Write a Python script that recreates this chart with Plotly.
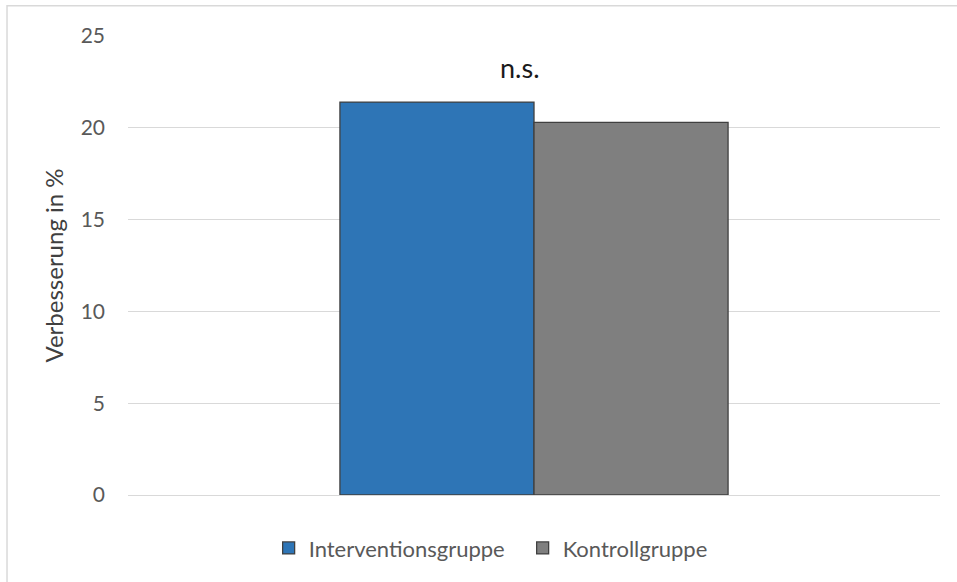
import plotly.graph_objects as go

# Improvement per group (percent)
categories = [""]
groups = ["Interventionsgruppe", "Kontrollgruppe"]
values = [21.4, 20.3]
colors = ["#2E75B6", "#7F7F7F"]
y_ticks = [0, 5, 10, 15, 20, 25]
significance = "n.s."

FONT = "Lato"

fig = go.Figure()
for name, val, col in zip(groups, values, colors):
    fig.add_trace(go.Bar(
        x=categories, y=[val], name=name,
        marker=dict(color=col, line=dict(color="#404040", width=1.3)),
    ))

fig.add_annotation(
    x=0, y=max(values), xref="x", yref="y",
    text=significance, showarrow=False, yshift=35, xshift=-14,
    font=dict(family=FONT, size=27, color="#1A1A1A"),
)

# light frame around the chart area
fig.add_shape(
    type="rect", xref="paper", yref="paper",
    x0=-0.149, x1=1.03, y0=-0.2, y1=1.066,
    line=dict(color="#D9D9D9", width=1.5), fillcolor="rgba(0,0,0,0)",
    layer="below",
)

fig.update_layout(
    width=957, height=582,
    margin=dict(l=128, r=17, t=36, b=87),
    paper_bgcolor="white", plot_bgcolor="white",
    barmode="group", bargap=0.522, bargroupgap=0,
    font=dict(family=FONT, size=21, color="#595959"),
    showlegend=True,
    legend=dict(
        orientation="h", x=0.486, xanchor="center", y=-0.07, yanchor="top",
        font=dict(family=FONT, size=22, color="#595959"),
        itemwidth=30, entrywidth=209, entrywidthmode="pixels",
    ),
    xaxis=dict(showticklabels=False, showline=False, zeroline=False,
               showgrid=False, ticks=""),
    yaxis=dict(
        range=[0, 25], tickvals=y_ticks, ticktext=[str(t) for t in y_ticks],
        showgrid=True, gridcolor="#D9D9D9", gridwidth=1.3,
        zeroline=True, zerolinecolor="#D9D9D9", zerolinewidth=1.3,
        showline=False, ticks="", ticklabelstandoff=22,
        title=dict(text="Verbesserung in %", standoff=10,
                   font=dict(family=FONT, size=24, color="#404040")),
        tickfont=dict(family=FONT, size=21, color="#595959"),
    ),
)

fig.write_html("out.html")
